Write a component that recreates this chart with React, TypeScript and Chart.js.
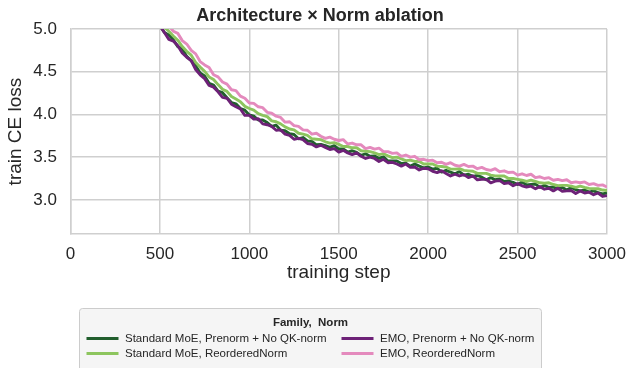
import React, { useEffect, useRef } from 'react';
import { Chart, registerables } from 'chart.js';

Chart.register(...registerables);

const FONT = "'Liberation Sans', Arial, Helvetica, sans-serif";
const TEXT = '#262626';
const GRID = '#cfcfcf';

const TITLE = 'Architecture × Norm ablation';
const X_LABEL = 'training step';
const Y_LABEL = 'train CE loss';
const LEGEND_TITLE = 'Family,  Norm';

const STEPS = [
  450, 475, 500, 525, 550, 575, 600, 625, 650, 675,
  700, 725, 750, 775, 800, 825, 850, 875, 900, 925,
  950, 975, 1000, 1025, 1050, 1075, 1100, 1125, 1150, 1175,
  1200, 1225, 1250, 1275, 1300, 1325, 1350, 1375, 1400, 1425,
  1450, 1475, 1500, 1525, 1550, 1575, 1600, 1625, 1650, 1675,
  1700, 1725, 1750, 1775, 1800, 1825, 1850, 1875, 1900, 1925,
  1950, 1975, 2000, 2025, 2050, 2075, 2100, 2125, 2150, 2175,
  2200, 2225, 2250, 2275, 2300, 2325, 2350, 2375, 2400, 2425,
  2450, 2475, 2500, 2525, 2550, 2575, 2600, 2625, 2650, 2675,
  2700, 2725, 2750, 2775, 2800, 2825, 2850, 2875, 2900, 2925,
  2950, 2975, 3000,
];

// Standard MoE, Prenorm + No QK-norm (dark green)
const SM_PRENORM = [
  5.13, 5.095, 5.04, 4.96, 4.93, 4.875, 4.795, 4.77, 4.68, 4.63,
  4.57, 4.485, 4.45, 4.365, 4.345, 4.275, 4.255, 4.195, 4.14, 4.125,
  4.07, 4.05, 3.995, 3.98, 3.935, 3.935, 3.905, 3.86, 3.875, 3.815,
  3.81, 3.775, 3.765, 3.715, 3.73, 3.69, 3.685, 3.645, 3.65, 3.635,
  3.615, 3.635, 3.595, 3.595, 3.56, 3.575, 3.555, 3.52, 3.54, 3.51,
  3.515, 3.485, 3.505, 3.455, 3.455, 3.455, 3.425, 3.43, 3.395, 3.42,
  3.395, 3.375, 3.385, 3.36, 3.37, 3.325, 3.345, 3.325, 3.305, 3.33,
  3.29, 3.3, 3.275, 3.285, 3.265, 3.235, 3.26, 3.235, 3.245, 3.215,
  3.22, 3.205, 3.18, 3.21, 3.175, 3.18, 3.185, 3.145, 3.17, 3.145,
  3.15, 3.13, 3.145, 3.115, 3.145, 3.12, 3.105, 3.115, 3.09, 3.105,
  3.085, 3.07, 3.08,
];

// Standard MoE, ReorderedNorm (light green)
const SM_REORDERED = [
  5.19, 5.14, 5.09, 5.02, 4.975, 4.92, 4.87, 4.795, 4.74, 4.695,
  4.61, 4.555, 4.505, 4.44, 4.41, 4.35, 4.295, 4.27, 4.21, 4.18,
  4.15, 4.095, 4.07, 4.05, 4.01, 3.99, 3.975, 3.925, 3.915, 3.89,
  3.855, 3.83, 3.82, 3.78, 3.77, 3.755, 3.715, 3.71, 3.705, 3.68,
  3.665, 3.67, 3.65, 3.625, 3.625, 3.61, 3.61, 3.575, 3.57, 3.565,
  3.55, 3.53, 3.54, 3.515, 3.495, 3.5, 3.48, 3.46, 3.465, 3.45,
  3.45, 3.42, 3.42, 3.42, 3.395, 3.39, 3.385, 3.36, 3.36, 3.365,
  3.345, 3.34, 3.335, 3.31, 3.31, 3.31, 3.29, 3.28, 3.28, 3.28,
  3.25, 3.25, 3.24, 3.23, 3.215, 3.23, 3.215, 3.2, 3.195, 3.2,
  3.18, 3.165, 3.17, 3.17, 3.16, 3.145, 3.16, 3.145, 3.135, 3.13,
  3.13, 3.115, 3.11,
];

// EMO, Prenorm + No QK-norm (purple)
const EMO_PRENORM = [
  5.13, 5.05, 5.04, 4.96, 4.88, 4.86, 4.805, 4.72, 4.67, 4.63,
  4.525, 4.465, 4.42, 4.34, 4.32, 4.265, 4.2, 4.19, 4.12, 4.09,
  4.065, 3.99, 3.99, 3.945, 3.95, 3.89, 3.88, 3.86, 3.815, 3.82,
  3.77, 3.755, 3.71, 3.72, 3.705, 3.66, 3.65, 3.62, 3.64, 3.615,
  3.59, 3.6, 3.56, 3.58, 3.55, 3.53, 3.55, 3.51, 3.485, 3.5,
  3.485, 3.45, 3.475, 3.435, 3.44, 3.42, 3.395, 3.42, 3.38, 3.385,
  3.35, 3.37, 3.365, 3.335, 3.32, 3.34, 3.31, 3.28, 3.3, 3.28,
  3.295, 3.26, 3.28, 3.235, 3.24, 3.24, 3.2, 3.22, 3.225, 3.19,
  3.2, 3.165, 3.19, 3.165, 3.15, 3.16, 3.13, 3.155, 3.125, 3.135,
  3.105, 3.135, 3.1, 3.105, 3.11, 3.075, 3.105, 3.08, 3.09, 3.06,
  3.08, 3.04, 3.05,
];

// EMO, ReorderedNorm (pink)
const EMO_REORDERED = [
  5.26, 5.21, 5.15, 5.115, 5.04, 4.975, 4.95, 4.865, 4.825, 4.75,
  4.71, 4.62, 4.58, 4.55, 4.465, 4.44, 4.38, 4.355, 4.29, 4.28,
  4.215, 4.19, 4.135, 4.13, 4.09, 4.08, 4.025, 4.015, 3.98, 3.965,
  3.91, 3.915, 3.87, 3.86, 3.82, 3.815, 3.77, 3.78, 3.745, 3.72,
  3.735, 3.71, 3.695, 3.705, 3.655, 3.665, 3.645, 3.645, 3.6, 3.615,
  3.595, 3.605, 3.565, 3.565, 3.545, 3.55, 3.51, 3.525, 3.5, 3.51,
  3.47, 3.475, 3.46, 3.465, 3.435, 3.44, 3.415, 3.435, 3.405, 3.395,
  3.415, 3.39, 3.395, 3.365, 3.38, 3.355, 3.345, 3.365, 3.33, 3.34,
  3.32, 3.325, 3.29, 3.305, 3.285, 3.3, 3.26, 3.27, 3.25, 3.26,
  3.23, 3.24, 3.225, 3.235, 3.2, 3.21, 3.2, 3.21, 3.18, 3.19,
  3.17, 3.175, 3.15,
];

const SERIES_NAMES = [
  'Standard MoE, Prenorm + No QK-norm',
  'Standard MoE, ReorderedNorm',
  'EMO, Prenorm + No QK-norm',
  'EMO, ReorderedNorm',
];
const SERIES_COLORS = ['#215e2d', '#8dc55e', '#6d2177', '#e48abd'];
const SERIES_VALUES = [SM_PRENORM, SM_REORDERED, EMO_PRENORM, EMO_REORDERED];

const X_MIN = 0;
const X_MAX = 3000;
const X_STEP = 500;
const Y_MIN = 2.6;
const Y_MAX = 5.0;
const Y_STEP = 0.5;

const titlePlugin = {
  id: 'figTitle',
  afterDraw(chart: any) {
    const ctx = chart.ctx as CanvasRenderingContext2D;
    ctx.save();
    ctx.fillStyle = TEXT;
    ctx.font = `bold 18px ${FONT}`;
    ctx.textAlign = 'center';
    ctx.textBaseline = 'middle';
    ctx.fillText(TITLE, 320, 16);
    ctx.restore();
  },
};

const legendPlugin = {
  id: 'boxLegend',
  afterDraw(chart: any) {
    const ctx = chart.ctx as CanvasRenderingContext2D;
    ctx.save();
    const bx = 79.5, by = 308.5, bw = 462, bh = 72, r = 3;
    ctx.beginPath();
    ctx.moveTo(bx + r, by);
    ctx.lineTo(bx + bw - r, by);
    ctx.quadraticCurveTo(bx + bw, by, bx + bw, by + r);
    ctx.lineTo(bx + bw, by + bh);
    ctx.lineTo(bx, by + bh);
    ctx.lineTo(bx, by + r);
    ctx.quadraticCurveTo(bx, by, bx + r, by);
    ctx.closePath();
    ctx.fillStyle = '#f5f5f5';
    ctx.fill();
    ctx.strokeStyle = '#cccccc';
    ctx.lineWidth = 1;
    ctx.stroke();

    ctx.fillStyle = TEXT;
    ctx.textBaseline = 'middle';
    ctx.textAlign = 'center';
    ctx.font = `bold 11.5px ${FONT}`;
    ctx.fillText(LEGEND_TITLE, bx + bw / 2, 322.5);

    ctx.font = `11.5px ${FONT}`;
    ctx.textAlign = 'left';
    const colX = [86.5, 341.5];
    const rowY = [338.5, 353.5];
    SERIES_NAMES.forEach((name, i) => {
      const col = i < 2 ? 0 : 1;
      const row = i % 2;
      const x = colX[col];
      const y = rowY[row];
      ctx.strokeStyle = SERIES_COLORS[i];
      ctx.lineWidth = 2.8;
      ctx.beginPath();
      ctx.moveTo(x, y);
      ctx.lineTo(x + 32, y);
      ctx.stroke();
      ctx.fillStyle = TEXT;
      ctx.fillText(name, x + 38.5, y);
    });
    ctx.restore();
  },
};

export default function App() {
  const canvasRef = useRef<HTMLCanvasElement | null>(null);

  useEffect(() => {
    const canvas = canvasRef.current;
    if (!canvas) return;
    Chart.defaults.font.family = FONT;
    Chart.defaults.color = TEXT;

    const order = [3, 2, 1, 0]; // later-plotted series on top
    const datasets = order.map((i) => ({
      label: SERIES_NAMES[i],
      data: STEPS.map((s, k) => ({ x: s, y: SERIES_VALUES[i][k] })),
      borderColor: SERIES_COLORS[i],
      backgroundColor: SERIES_COLORS[i],
      borderWidth: 2.9,
      pointRadius: 0,
      tension: 0,
      borderJoinStyle: 'round' as const,
      clip: 0,
    }));

    const chart = new Chart(canvas, {
      type: 'line',
      data: { datasets },
      plugins: [titlePlugin, legendPlugin],
      options: {
        responsive: false,
        animation: false,
        layout: { padding: { left: 0, right: 20, top: 29.1, bottom: 68 } },
        plugins: {
          legend: { display: false },
          tooltip: { enabled: false },
          title: { display: false },
        },
        scales: {
          x: {
            type: 'linear',
            min: X_MIN,
            max: X_MAX,
            ticks: {
              stepSize: X_STEP,
              padding: 10,
              color: TEXT,
              font: { size: 17, family: FONT },
              callback: (v: any) => String(v),
            },
            grid: { color: GRID, lineWidth: 1.5, drawTicks: false },
            border: { display: true, color: GRID, width: 1.5 },
            title: {
              display: true,
              text: X_LABEL,
              color: TEXT,
              font: { size: 19, family: FONT },
              padding: { top: 0, bottom: 15.6 },
            },
            afterFit: (s: any) => {
              s.height = 66;
              s.paddingLeft = 0;
              s.paddingRight = 0;
            },
          },
          y: {
            type: 'linear',
            min: Y_MIN,
            max: Y_MAX,
            ticks: {
              stepSize: Y_STEP,
              includeBounds: false,
              padding: 13.5,
              color: TEXT,
              font: { size: 17, family: FONT },
              callback: (v: any) => Number(v).toFixed(1),
            },
            grid: { color: GRID, lineWidth: 1.5, drawTicks: false },
            border: { display: true, color: GRID, width: 1.5 },
            title: {
              display: true,
              text: Y_LABEL,
              color: TEXT,
              font: { size: 19, family: FONT },
              padding: { top: 4.6, bottom: 0 },
            },
            afterFit: (s: any) => {
              s.width = 70.5;
              s.paddingTop = 0;
              s.paddingBottom = 0;
            },
          },
        },
      } as any,
    });

    return () => {
      chart.destroy();
    };
  }, []);

  return (
    <div style={{ position: 'fixed', left: 0, top: 0, width: 627, height: 368, background: '#ffffff' }}>
      <canvas ref={canvasRef} width={627} height={368} style={{ display: 'block', width: 627, height: 368 }} />
    </div>
  );
}
